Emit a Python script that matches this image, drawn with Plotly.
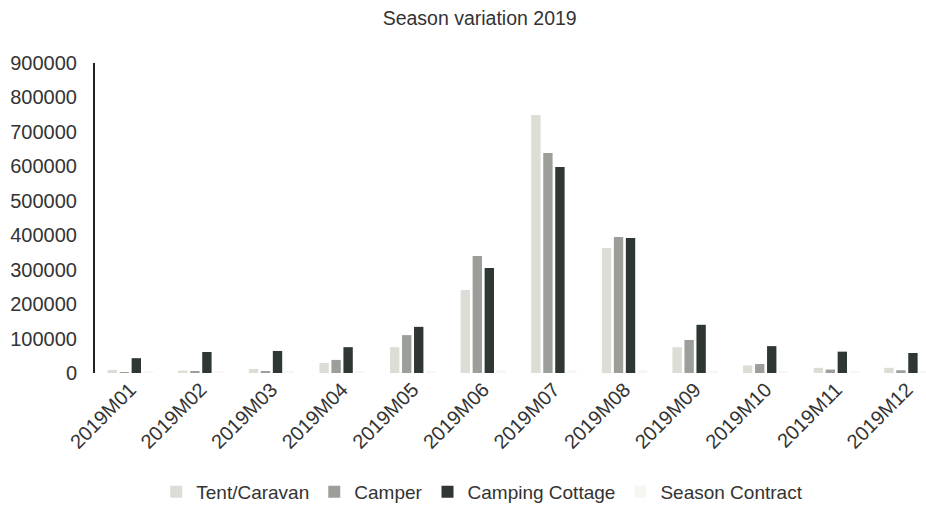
import plotly.graph_objects as go

months = ["2019M01", "2019M02", "2019M03", "2019M04", "2019M05", "2019M06",
          "2019M07", "2019M08", "2019M09", "2019M10", "2019M11", "2019M12"]

tent_caravan = [9000, 7000, 12000, 29000, 75000, 241000, 749000, 363000, 75000, 22000, 15000, 15000]
camper = [1000, 4000, 4000, 38000, 110000, 340000, 639000, 395000, 96000, 26000, 10000, 8000]
camping_cottage = [43000, 61000, 64000, 75000, 134000, 305000, 598000, 392000, 140000, 78000, 62000, 58000]
season_contract = [3000, 3000, 3000, 4000, 6000, 8000, 9000, 8000, 6000, 4000, 3000, 3000]

y_ticks = [0, 100000, 200000, 300000, 400000, 500000, 600000, 700000, 800000, 900000]

series = [
    ("Tent/Caravan", tent_caravan, "#dcddd5"),
    ("Camper", camper, "#9c9f99"),
    ("Camping Cottage", camping_cottage, "#2e3732"),
    ("Season Contract", season_contract, "#f6f6f3"),
]

fig = go.Figure()
for name, vals, color in series:
    fig.add_trace(go.Bar(name=name, x=months, y=vals, marker_color=color,
                         marker_line_width=0))

font_family = "Liberation Sans, Arial, sans-serif"

fig.update_layout(
    width=926, height=507,
    margin=dict(l=95, r=0, t=63, b=134),
    paper_bgcolor="white", plot_bgcolor="white",
    barmode="group", bargap=0.32, bargroupgap=0.22,
    font=dict(family=font_family, color="#333333"),
    title=dict(text="Season variation 2019", x=0.518, xanchor="center",
               y=0.965, yanchor="middle", font=dict(size=19.5, color="#333333")),
    legend=dict(orientation="h", x=0.466, xanchor="center",
                yref="container", y=0.03, yanchor="middle",
                font=dict(size=19, color="#333333"), itemwidth=30,
                traceorder="normal"),
    showlegend=True,
)

fig.update_xaxes(type="category", range=[-0.5, 11.27], tickangle=-45,
                 tickfont=dict(size=20, color="#333333"), showline=False,
                 showgrid=False, ticks="", automargin=False)
fig.update_yaxes(range=[0, 900000], tickvals=y_ticks,
                 ticktext=[str(v) for v in y_ticks],
                 tickfont=dict(size=20, color="#333333"),
                 showgrid=False, zeroline=False, showline=True,
                 linecolor="#222222", linewidth=2, ticks="", ticklabelstandoff=12,
                 automargin=False)

fig.write_html("out.html")
